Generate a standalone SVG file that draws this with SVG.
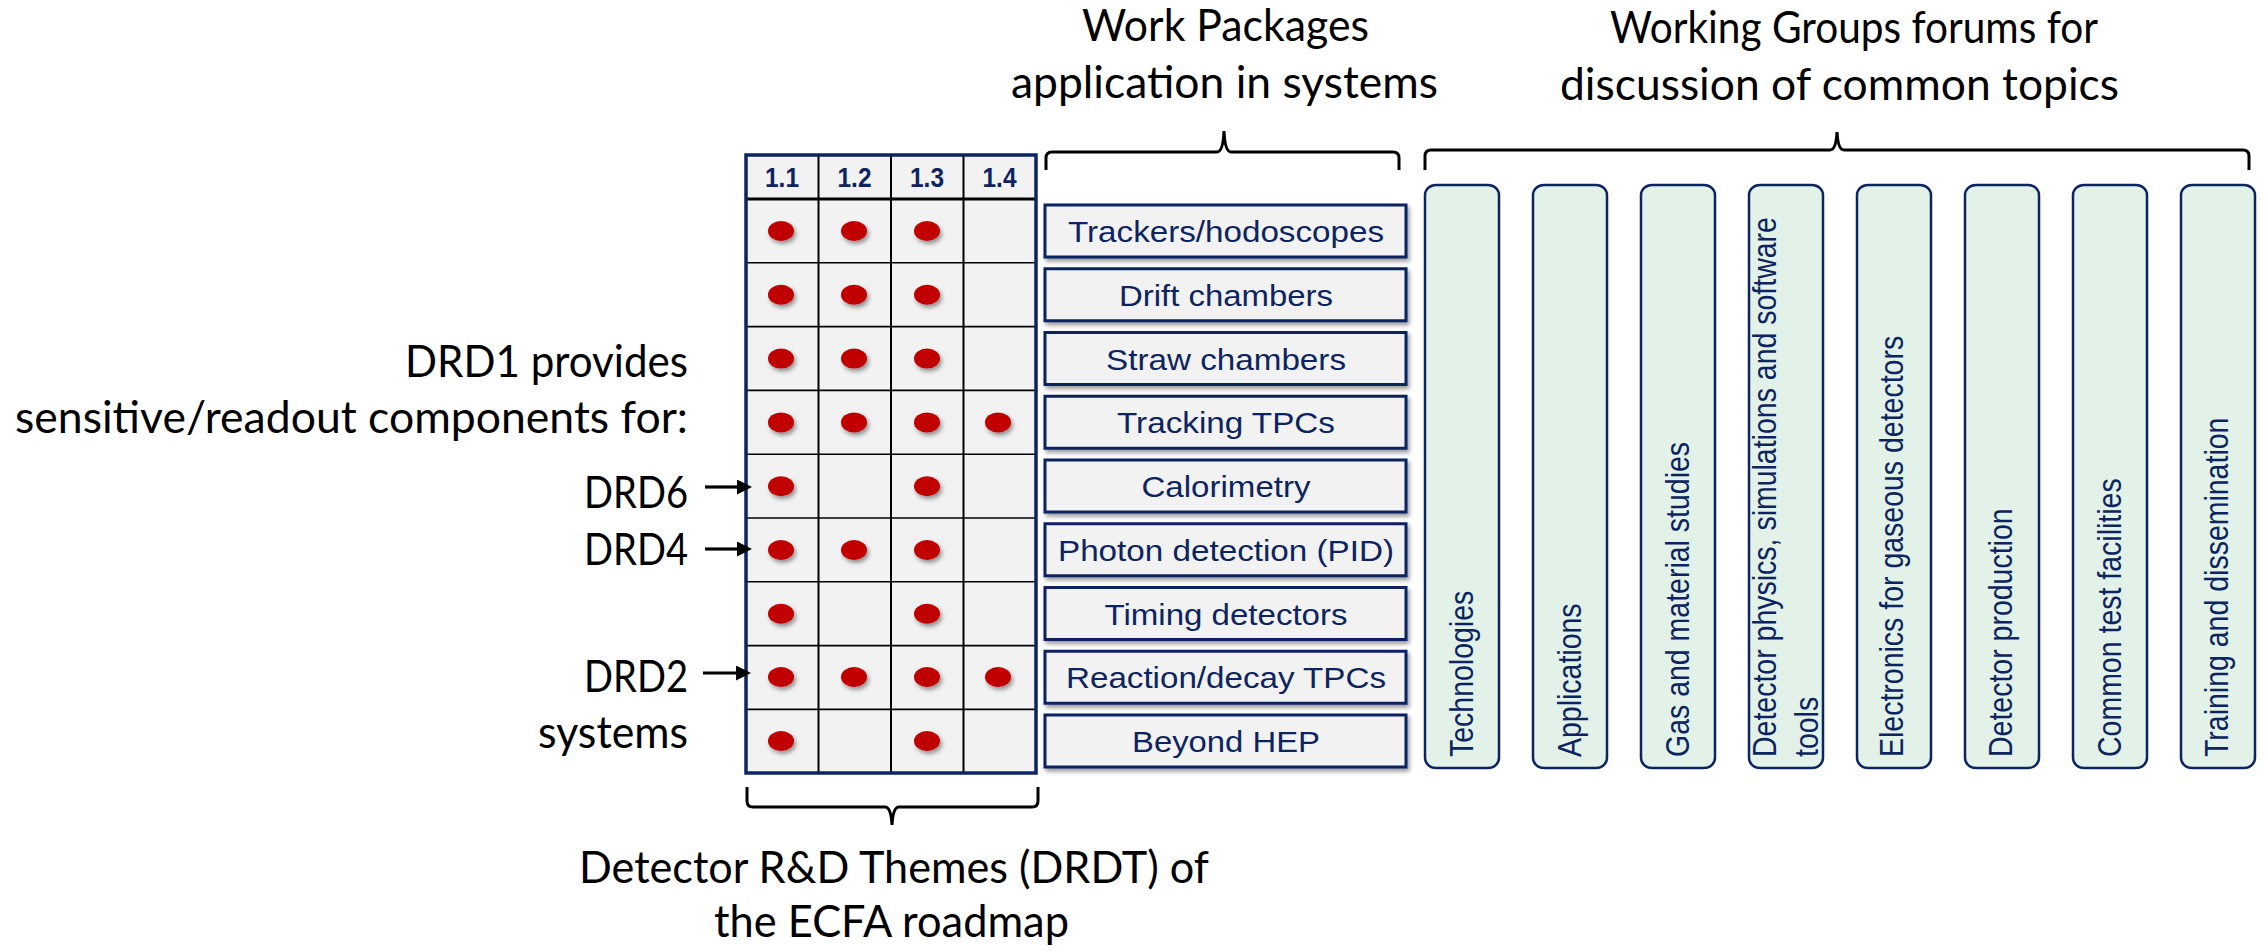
<svg xmlns="http://www.w3.org/2000/svg" width="2267" height="951" viewBox="0 0 2267 951">
<style>
.cal{font-family:Lato,"Open Sans","Liberation Sans",sans-serif;font-size:44px;fill:#000}
.hd{font-family:"Liberation Sans",Arial,sans-serif;font-size:27px;font-weight:bold;fill:#0C2461;text-anchor:middle}
.wpt{font-family:"Liberation Sans",Arial,sans-serif;font-size:29px;fill:#0C2461;text-anchor:middle}
.wgt{font-family:"Liberation Sans",Arial,sans-serif;font-size:28.5px;fill:#0C2461}
.wp{fill:#F2F2F2;stroke:#0C2461;stroke-width:3}
.wg{fill:#E2F2E8;stroke:#0C2461;stroke-width:2.5}
.dot{fill:#C00000}
.gl{stroke:#000;stroke-width:1.6}
.gv{stroke:#000;stroke-width:2}
.brace{fill:none;stroke:#000;stroke-width:3}
.arr{stroke:#000;stroke-width:3.2}
</style>
<defs>
<filter id="sh" x="-20%" y="-20%" width="140%" height="170%">
<feDropShadow dx="2" dy="3" stdDeviation="2" flood-color="#000" flood-opacity="0.4"/>
</filter>
<marker id="ah" viewBox="0 0 15 15" refX="0" refY="7.5" markerWidth="15" markerHeight="15" markerUnits="userSpaceOnUse" orient="auto">
<path d="M0,0 L15,7.5 L0,15 z" fill="#000"/>
</marker>
</defs>

<!-- titles -->
<g id="titles">
<text class="cal" x="1082" y="41" textLength="287" lengthAdjust="spacingAndGlyphs">Work Packages</text>
<text class="cal" x="1011" y="98" textLength="427" lengthAdjust="spacingAndGlyphs">application in systems</text>
<text class="cal" x="1610" y="43" textLength="488" lengthAdjust="spacingAndGlyphs">Working Groups forums for</text>
<text class="cal" x="1560" y="100" textLength="559" lengthAdjust="spacingAndGlyphs">discussion of common topics</text>
<text class="cal" x="405" y="377" textLength="283" lengthAdjust="spacingAndGlyphs">DRD1 provides</text>
<text class="cal" x="15" y="433" textLength="673" lengthAdjust="spacingAndGlyphs">sensitive/readout components for:</text>
<text class="cal" x="584" y="508" textLength="104" lengthAdjust="spacingAndGlyphs">DRD6</text>
<text class="cal" x="584" y="565" textLength="104" lengthAdjust="spacingAndGlyphs">DRD4</text>
<text class="cal" x="584" y="692" textLength="104" lengthAdjust="spacingAndGlyphs">DRD2</text>
<text class="cal" x="538" y="748" textLength="150" lengthAdjust="spacingAndGlyphs">systems</text>
<text class="cal" x="579" y="883" textLength="630" lengthAdjust="spacingAndGlyphs">Detector R&amp;D Themes (DRDT) of</text>
<text class="cal" x="714" y="937" textLength="355" lengthAdjust="spacingAndGlyphs">the ECFA roadmap</text>
</g>

<!-- braces -->
<g id="braces">
<path class="brace" d="M1046,170 L1046,158 Q1046,152 1052,152 L1217,152 Q1223,152 1224,131 Q1225,152 1231,152 L1393,152 Q1399,152 1399,158 L1399,170"/>
<path class="brace" d="M1425,170 L1425,156 Q1425,150 1431,150 L1830,150 Q1836,150 1837,132 Q1838,150 1844,150 L2243,150 Q2249,150 2249,156 L2249,170"/>
<path class="brace" d="M747,787 L747,801 Q747,807 753,807 L885,807 Q891,807 892,825 Q893,807 899,807 L1032,807 Q1038,807 1038,801 L1038,787"/>
</g>

<!-- DRDT grid -->
<g id="drdt-grid">
<rect x="746" y="155" width="290" height="618" fill="#F2F2F2"/>
<line class="gl" x1="746" y1="262.8" x2="1036" y2="262.8"/>
<line class="gl" x1="746" y1="326.6" x2="1036" y2="326.6"/>
<line class="gl" x1="746" y1="390.4" x2="1036" y2="390.4"/>
<line class="gl" x1="746" y1="454.2" x2="1036" y2="454.2"/>
<line class="gl" x1="746" y1="518" x2="1036" y2="518"/>
<line class="gl" x1="746" y1="581.8" x2="1036" y2="581.8"/>
<line class="gl" x1="746" y1="645.6" x2="1036" y2="645.6"/>
<line class="gl" x1="746" y1="709.4" x2="1036" y2="709.4"/>
<line class="gv" x1="818.5" y1="155" x2="818.5" y2="773"/>
<line class="gv" x1="891" y1="155" x2="891" y2="773"/>
<line class="gv" x1="963.5" y1="155" x2="963.5" y2="773"/>
<line x1="746" y1="199" x2="1036" y2="199" stroke="#000" stroke-width="3"/>
<rect x="746" y="155" width="290" height="618" fill="none" stroke="#0C2461" stroke-width="3.5"/>
<text class="hd" x="782" y="187" textLength="34" lengthAdjust="spacingAndGlyphs">1.1</text>
<text class="hd" x="854.5" y="187" textLength="34" lengthAdjust="spacingAndGlyphs">1.2</text>
<text class="hd" x="927" y="187" textLength="34" lengthAdjust="spacingAndGlyphs">1.3</text>
<text class="hd" x="999.5" y="187" textLength="34" lengthAdjust="spacingAndGlyphs">1.4</text>
<g filter="url(#sh)">
<ellipse class="dot" cx="781" cy="231" rx="13" ry="10"/>
<ellipse class="dot" cx="854" cy="231" rx="13" ry="10"/>
<ellipse class="dot" cx="927" cy="231" rx="13" ry="10"/>
<ellipse class="dot" cx="781" cy="294.8" rx="13" ry="10"/>
<ellipse class="dot" cx="854" cy="294.8" rx="13" ry="10"/>
<ellipse class="dot" cx="927" cy="294.8" rx="13" ry="10"/>
<ellipse class="dot" cx="781" cy="358.6" rx="13" ry="10"/>
<ellipse class="dot" cx="854" cy="358.6" rx="13" ry="10"/>
<ellipse class="dot" cx="927" cy="358.6" rx="13" ry="10"/>
<ellipse class="dot" cx="781" cy="422.4" rx="13" ry="10"/>
<ellipse class="dot" cx="854" cy="422.4" rx="13" ry="10"/>
<ellipse class="dot" cx="927" cy="422.4" rx="13" ry="10"/>
<ellipse class="dot" cx="998" cy="422.4" rx="13" ry="10"/>
<ellipse class="dot" cx="781" cy="486.2" rx="13" ry="10"/>
<ellipse class="dot" cx="927" cy="486.2" rx="13" ry="10"/>
<ellipse class="dot" cx="781" cy="550" rx="13" ry="10"/>
<ellipse class="dot" cx="854" cy="550" rx="13" ry="10"/>
<ellipse class="dot" cx="927" cy="550" rx="13" ry="10"/>
<ellipse class="dot" cx="781" cy="613.8" rx="13" ry="10"/>
<ellipse class="dot" cx="927" cy="613.8" rx="13" ry="10"/>
<ellipse class="dot" cx="781" cy="677" rx="13" ry="10"/>
<ellipse class="dot" cx="854" cy="677" rx="13" ry="10"/>
<ellipse class="dot" cx="927" cy="677" rx="13" ry="10"/>
<ellipse class="dot" cx="998" cy="677" rx="13" ry="10"/>
<ellipse class="dot" cx="781" cy="741" rx="13" ry="10"/>
<ellipse class="dot" cx="927" cy="741" rx="13" ry="10"/>
</g>
</g>

<!-- Work packages -->
<g id="wp-trackers"><rect class="wp" filter="url(#sh)" x="1045" y="205" width="361" height="52"/><text class="wpt" x="1226" y="242" textLength="316" lengthAdjust="spacingAndGlyphs">Trackers/hodoscopes</text></g>
<g id="wp-drift"><rect class="wp" filter="url(#sh)" x="1045" y="268.75" width="361" height="52"/><text class="wpt" x="1226" y="305.75" textLength="214" lengthAdjust="spacingAndGlyphs">Drift chambers</text></g>
<g id="wp-straw"><rect class="wp" filter="url(#sh)" x="1045" y="332.5" width="361" height="52"/><text class="wpt" x="1226" y="369.5" textLength="240" lengthAdjust="spacingAndGlyphs">Straw chambers</text></g>
<g id="wp-tpc"><rect class="wp" filter="url(#sh)" x="1045" y="396.25" width="361" height="52"/><text class="wpt" x="1226" y="433.25" textLength="218" lengthAdjust="spacingAndGlyphs">Tracking TPCs</text></g>
<g id="wp-calo"><rect class="wp" filter="url(#sh)" x="1045" y="460" width="361" height="52"/><text class="wpt" x="1226" y="497" textLength="169" lengthAdjust="spacingAndGlyphs">Calorimetry</text></g>
<g id="wp-photon"><rect class="wp" filter="url(#sh)" x="1045" y="523.75" width="361" height="52"/><text class="wpt" x="1226" y="560.75" textLength="336" lengthAdjust="spacingAndGlyphs">Photon detection (PID)</text></g>
<g id="wp-timing"><rect class="wp" filter="url(#sh)" x="1045" y="587.5" width="361" height="52"/><text class="wpt" x="1226" y="624.5" textLength="243" lengthAdjust="spacingAndGlyphs">Timing detectors</text></g>
<g id="wp-reaction"><rect class="wp" filter="url(#sh)" x="1045" y="651.25" width="361" height="52"/><text class="wpt" x="1226" y="688.25" textLength="320" lengthAdjust="spacingAndGlyphs">Reaction/decay TPCs</text></g>
<g id="wp-beyond"><rect class="wp" filter="url(#sh)" x="1045" y="715" width="361" height="52"/><text class="wpt" x="1226" y="752" textLength="188" lengthAdjust="spacingAndGlyphs">Beyond HEP</text></g>

<!-- Working groups -->
<g id="wg-technologies"><rect class="wg" x="1425" y="185" width="74" height="583" rx="11" ry="10"/><text class="wgt" transform="translate(1473,757) scale(1.18,1) rotate(-90)">Technologies</text></g>
<g id="wg-applications"><rect class="wg" x="1533" y="185" width="74" height="583" rx="11" ry="10"/><text class="wgt" transform="translate(1581,757) scale(1.18,1) rotate(-90)">Applications</text></g>
<g id="wg-gas"><rect class="wg" x="1641" y="185" width="74" height="583" rx="11" ry="10"/><text class="wgt" transform="translate(1689,757) scale(1.18,1) rotate(-90)">Gas and material studies</text></g>
<g id="wg-physics"><rect class="wg" x="1749" y="185" width="74" height="583" rx="11" ry="10"/><text class="wgt" transform="translate(1776,757) scale(1.18,1) rotate(-90)">Detector physics, simulations and software</text><text class="wgt" transform="translate(1818,757) scale(1.18,1) rotate(-90)">tools</text></g>
<g id="wg-electronics"><rect class="wg" x="1857" y="185" width="74" height="583" rx="11" ry="10"/><text class="wgt" transform="translate(1903,757) scale(1.18,1) rotate(-90)">Electronics for gaseous detectors</text></g>
<g id="wg-production"><rect class="wg" x="1965" y="185" width="74" height="583" rx="11" ry="10"/><text class="wgt" transform="translate(2012,757) scale(1.18,1) rotate(-90)">Detector production</text></g>
<g id="wg-test"><rect class="wg" x="2073" y="185" width="74" height="583" rx="11" ry="10"/><text class="wgt" transform="translate(2121,757) scale(1.18,1) rotate(-90)">Common test facilities</text></g>
<g id="wg-training"><rect class="wg" x="2181" y="185" width="74" height="583" rx="11" ry="10"/><text class="wgt" transform="translate(2228,757) scale(1.18,1) rotate(-90)">Training and dissemination</text></g>

<!-- connectors -->
<g id="connectors">
<line class="arr" x1="705" y1="487" x2="737" y2="487" marker-end="url(#ah)"/>
<line class="arr" x1="705" y1="549" x2="737" y2="549" marker-end="url(#ah)"/>
<line class="arr" x1="703" y1="673" x2="736" y2="673" marker-end="url(#ah)"/>
</g>
</svg>
